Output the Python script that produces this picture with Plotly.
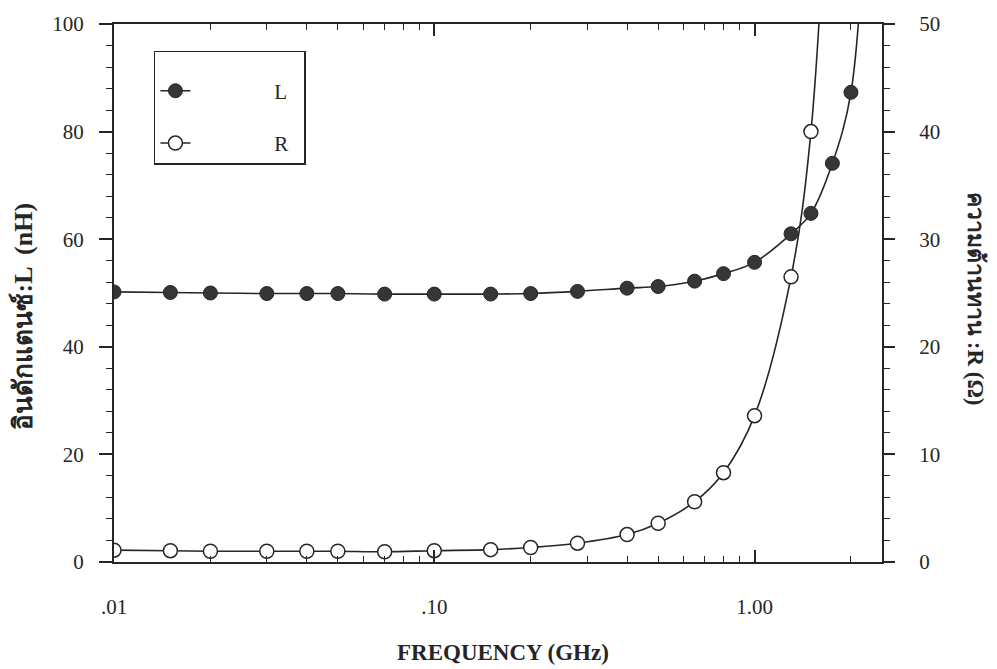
import plotly.graph_objects as go

# ---- data ----
freq_L = [0.01, 0.015, 0.02, 0.03, 0.04, 0.05, 0.07, 0.10, 0.15, 0.20, 0.28,
          0.40, 0.50, 0.65, 0.80, 1.00, 1.30, 1.50, 1.75, 2.00, 2.25]
L_nH = [50.2, 50.1, 50.0, 49.9, 49.9, 49.9, 49.8, 49.8, 49.8, 49.9, 50.3,
        50.9, 51.2, 52.2, 53.6, 55.7, 61.0, 64.8, 74.1, 87.3, 130.0]

freq_R = [0.01, 0.015, 0.02, 0.03, 0.04, 0.05, 0.07, 0.10, 0.15, 0.20, 0.28,
          0.40, 0.50, 0.65, 0.80, 1.00, 1.30, 1.50, 1.75]
R_ohm = [1.1, 1.05, 1.0, 1.0, 1.0, 1.0, 0.95, 1.05, 1.15, 1.35, 1.75,
         2.55, 3.6, 5.6, 8.3, 13.6, 26.5, 40.0, 75.0]

x_tickvals = [0.01, 0.1, 1.0]
x_ticktext = [".01", ".10", "1.00"]
x_minor = [0.02, 0.03, 0.04, 0.05, 0.06, 0.07, 0.08, 0.09,
           0.2, 0.3, 0.4, 0.5, 0.6, 0.7, 0.8, 0.9, 2.0]
yL_ticks = [0, 20, 40, 60, 80, 100]
yR_ticks = [0, 10, 20, 30, 40, 50]

INK = "#262626"
SERIF = "Liberation Serif, Times New Roman, serif"
PAD = "\u00a0" * 15
TAIL = "\u00a0" * 2

fig = go.Figure()
fig.add_trace(go.Scatter(
    x=freq_L, y=L_nH, name=PAD + "L" + TAIL, mode="lines+markers",
    line=dict(color=INK, width=1.6, shape="spline"),
    marker=dict(size=14, color="#363636", line=dict(color=INK, width=1)),
    legendgroup="L", yaxis="y"))
fig.add_trace(go.Scatter(
    x=freq_R, y=R_ohm, name=PAD + "R" + TAIL, mode="lines+markers",
    line=dict(color=INK, width=1.6, shape="spline"),
    marker=dict(size=14, color="white", line=dict(color=INK, width=1.5)),
    legendgroup="R", yaxis="y2"))

fig.update_layout(
    width=997, height=669,
    margin=dict(l=114, r=115, t=22, b=107),
    paper_bgcolor="white", plot_bgcolor="white",
    font=dict(family=SERIF, size=20, color=INK),
    showlegend=True,
    legend=dict(x=0.052, y=0.95, xanchor="left", yanchor="top",
                bordercolor=INK, borderwidth=1.5, bgcolor="white",
                font=dict(family=SERIF, size=21, color=INK),
                title=dict(text="\u00a0", font=dict(size=14)),
                tracegroupgap=22),
    xaxis=dict(type="log", range=[-2, 0.39794],
               tickmode="array", tickvals=x_tickvals, ticktext=x_ticktext,
               ticks="inside", ticklen=12, tickwidth=1.5, tickcolor=INK,
               minor=dict(tickmode="array", tickvals=x_minor, ticks="inside",
                          ticklen=6, tickwidth=1.2, tickcolor=INK),
               showline=True, linecolor=INK, linewidth=2, mirror="ticks",
               showgrid=False, zeroline=False,
               tickfont=dict(family=SERIF, size=21, color=INK),
               ticklabelstandoff=25),
    yaxis=dict(range=[0, 100], tickmode="array", tickvals=yL_ticks,
               ticks="outside", ticklen=13, tickwidth=1.5, tickcolor=INK,
               minor=dict(dtick=4, tick0=0, ticks="outside", ticklen=6,
                          tickwidth=1.2, tickcolor=INK),
               showline=True, linecolor=INK, linewidth=2,
               showgrid=False, zeroline=False,
               tickfont=dict(family=SERIF, size=21, color=INK),
               ticklabelstandoff=11),
    yaxis2=dict(range=[0, 50], overlaying="y", side="right",
                tickmode="array", tickvals=yR_ticks,
                ticks="outside", ticklen=11, tickwidth=1.5, tickcolor=INK,
                minor=dict(dtick=2, tick0=0, ticks="outside", ticklen=6,
                           tickwidth=1.2, tickcolor=INK),
                showline=True, linecolor=INK, linewidth=2,
                showgrid=False, zeroline=False,
                tickfont=dict(family=SERIF, size=21, color=INK),
                ticklabelstandoff=20),
    annotations=[
        dict(text="FREQUENCY (GHz)", xref="paper", yref="paper",
             x=0.5065, y=-0.169, xanchor="center", yanchor="middle",
             showarrow=False,
             font=dict(family=SERIF, size=23, color=INK, weight="bold")),
        dict(text="อินดักแตนซ์:L  (nH)", xref="paper", yref="paper",
             x=-0.118, y=0.457, xanchor="center", yanchor="middle",
             showarrow=False, textangle=-90,
             font=dict(family=SERIF, size=26, color=INK, weight="bold")),
        dict(text="ความต้านทาน :R (Ω)", xref="paper", yref="paper",
             x=1.121, y=0.489, xanchor="center", yanchor="middle",
             showarrow=False, textangle=90,
             font=dict(family=SERIF, size=23, color=INK, weight="bold")),
    ],
)

fig.write_html("out.html",
               config={"displayModeBar": False},
               post_script="document.body.style.margin='0px';")
